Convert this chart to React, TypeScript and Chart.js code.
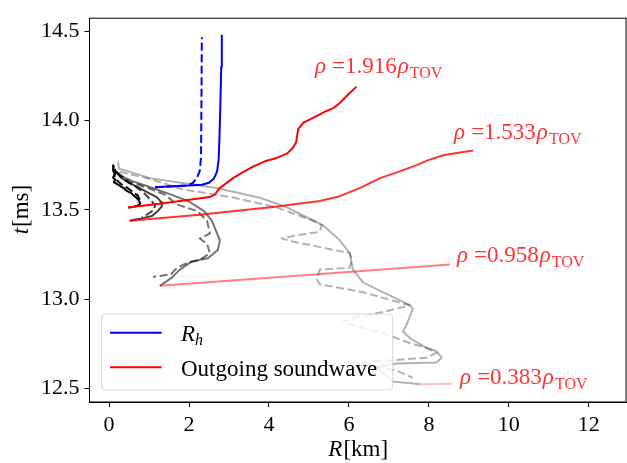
import React, { useEffect, useRef } from "react";
import { Chart, registerables } from "chart.js";
Chart.register(...registerables);

// ---------- axes ----------
const X_TICKS = [0, 2, 4, 6, 8, 10, 12];
const Y_TICKS = [12.5, 13.0, 13.5, 14.0, 14.5];
const X_MIN = -0.49, X_MAX = 12.93, Y_MIN = 12.425, Y_MAX = 14.573;

// ---------- horizon radius R_h ----------
const rhSolidR = [1.15, 1.6, 2.0, 2.32, 2.5, 2.62, 2.7, 2.74, 2.76, 2.785, 2.805, 2.82];
const rhSolidT = [13.627, 13.632, 13.636, 13.641, 13.652, 13.675, 13.714, 13.78, 13.9, 14.1, 14.3, 14.48];
const rhDashR = [1.15, 1.6, 1.97, 2.1, 2.2, 2.27, 2.3, 2.31, 2.32];
const rhDashT = [13.627, 13.632, 13.638, 13.652, 13.68, 13.72, 13.8, 14.1, 14.467];

// ---------- outgoing soundwaves ----------
const sw1916R = [0.48, 1.5, 2.52, 2.65, 2.77, 3.1, 3.35, 3.6, 3.9, 4.19, 4.45, 4.6, 4.68, 4.73, 4.86, 5.19, 5.4, 5.61, 5.77, 6.0, 6.19];
const sw1916T = [13.514, 13.542, 13.572, 13.587, 13.623, 13.678, 13.712, 13.742, 13.772, 13.791, 13.815, 13.848, 13.88, 13.952, 13.988, 14.025, 14.05, 14.07, 14.098, 14.15, 14.19];
const sw1533R = [0.52, 2.27, 4.1, 5.27, 5.77, 6.28, 6.78, 7.2, 7.69, 8.0, 8.36, 8.7, 9.11];
const sw1533T = [13.44, 13.473, 13.517, 13.55, 13.577, 13.623, 13.678, 13.71, 13.751, 13.78, 13.806, 13.818, 13.833];
const sw0958R = [1.27, 4.87, 8.53];
const sw0958T = [13.075, 13.134, 13.194];
const sw0383R = [7.78, 8.58];
const sw0383T = [12.524, 12.527];

// ---------- density contours (grey) ----------
const cA_R = [0.12, 0.1, 0.14, 0.1, 0.15, 0.12, 0.2, 0.3, 0.38, 0.45, 0.55, 0.62, 0.7, 0.75, 0.78, 0.72, 0.6, 0.48];
const cA_T = [13.75, 13.72, 13.7, 13.68, 13.67, 13.655, 13.645, 13.63, 13.62, 13.605, 13.595, 13.58, 13.565, 13.55, 13.535, 13.525, 13.517, 13.514];
const cAd_R = [0.15, 0.14, 0.2, 0.3, 0.45, 0.6, 0.72, 0.76, 0.7];
const cAd_T = [13.73, 13.69, 13.665, 13.645, 13.625, 13.6, 13.58, 13.56, 13.54];

const cB_R = [0.15, 0.3, 0.5, 0.7, 0.95, 1.2, 1.3, 1.32, 1.22, 1.07, 0.77, 0.52];
const cB_T = [13.72, 13.68, 13.65, 13.63, 13.6, 13.57, 13.545, 13.52, 13.494, 13.466, 13.45, 13.44];
const cBd_R = [0.18, 0.35, 0.6, 0.85, 1.02, 1.15, 1.12, 0.97, 0.82];
const cBd_T = [13.71, 13.675, 13.64, 13.6, 13.56, 13.525, 13.5, 13.477, 13.46];

const cC_R = [0.15, 0.3, 0.6, 1.0, 1.5, 1.97, 2.37, 2.57, 2.67, 2.77, 2.72, 2.47, 2.07, 1.77, 1.57, 1.27];
const cC_T = [13.72, 13.69, 13.66, 13.63, 13.59, 13.55, 13.495, 13.44, 13.386, 13.331, 13.276, 13.23, 13.212, 13.166, 13.121, 13.075];
const cCd_R = [0.2, 0.5, 1.0, 1.4, 1.7, 2.2, 2.45, 2.52, 2.27, 2.45, 2.52, 2.27, 1.95, 1.7, 1.55, 1.1];
const cCd_T = [13.71, 13.66, 13.62, 13.585, 13.53, 13.494, 13.44, 13.367, 13.34, 13.31, 13.258, 13.22, 13.203, 13.176, 13.14, 13.125];

const cD_R = [0.22, 0.25, 0.77, 1.02, 2.0, 2.69, 3.77, 4.4, 4.94, 5.36, 5.77, 6.02, 6.1, 6.36, 6.86, 7.52, 7.6, 7.44, 7.35, 7.52, 7.94, 8.19, 8.32, 8.19, 7.2, 6.7, 6.9, 7.1, 7.78];
const cD_T = [13.769, 13.73, 13.696, 13.678, 13.645, 13.623, 13.568, 13.52, 13.459, 13.413, 13.33, 13.258, 13.166, 13.093, 13.039, 12.967, 12.947, 12.856, 12.82, 12.783, 12.728, 12.71, 12.673, 12.646, 12.64, 12.62, 12.58, 12.54, 12.524];
const cDd_R = [0.27, 0.6, 1.0, 1.85, 3.1, 4.19, 5.1, 5.32, 5.27, 4.69, 4.32, 4.61, 6.02, 6.07, 6.02, 5.27, 5.19, 5.27, 6.36, 7.52, 6.86, 6.19, 5.86, 6.19, 6.86, 7.52, 7.94, 8.19, 7.94, 6.86, 6.02, 6.5, 7.2, 7.6];
const cDd_T = [13.714, 13.695, 13.675, 13.614, 13.57, 13.514, 13.44, 13.413, 13.377, 13.358, 13.34, 13.322, 13.258, 13.221, 13.176, 13.166, 13.112, 13.084, 13.039, 12.966, 12.929, 12.9, 12.874, 12.847, 12.81, 12.755, 12.728, 12.7, 12.673, 12.655, 12.646, 12.63, 12.6, 12.56];

// ---------- annotations ----------
const labelValues = ["1.916", "1.533", "0.958", "0.383"];
const labelR = [5.15, 8.63, 8.7, 8.78];
const labelT = [14.266, 13.898, 13.206, 12.524];
const legendLabels = ["R_h", "Outgoing soundwave"];

const SERIF = '"Liberation Serif", "Times New Roman", serif';
const pts = (R: number[], T: number[]) => R.map((r, i) => ({ x: r, y: T[i] }));
const DASH = [8, 3.5];

function line(R: number[], T: number[], color: string, dashed: boolean, order: number) {
  return {
    data: pts(R, T),
    borderColor: color,
    backgroundColor: color,
    borderWidth: 2,
    borderDash: dashed ? DASH : [],
    pointRadius: 0,
    showLine: true,
    fill: false,
    tension: 0,
    order,
    borderJoinStyle: "round" as const,
  };
}

const overlay = {
  id: "overlay",
  afterDraw(chart: any) {
    const { ctx, chartArea: ca, scales } = chart;
    const xs = scales.x, ys = scales.y;
    ctx.save();
    // frame
    ctx.strokeStyle = "#000";
    ctx.lineWidth = 1;
    ctx.strokeRect(ca.left, ca.top, ca.right - ca.left, ca.bottom - ca.top);

    // rho labels
    const labColor = "rgba(255,0,0,0.8)";
    ctx.textAlign = "left";
    ctx.textBaseline = "alphabetic";
    labelValues.forEach((v, i) => {
      let cx = xs.getPixelForValue(labelR[i]);
      const cy = ys.getPixelForValue(labelT[i]);
      ctx.fillStyle = labColor;
      ctx.font = `italic 23px ${SERIF}`;
      ctx.fillText("ρ", cx, cy);
      cx += ctx.measureText("ρ").width + 6;
      ctx.font = `23px ${SERIF}`;
      const s = "=" + v;
      ctx.fillText(s, cx, cy);
      cx += ctx.measureText(s).width + 1;
      ctx.font = `italic 23px ${SERIF}`;
      ctx.fillText("ρ", cx, cy);
      cx += ctx.measureText("ρ").width + 1;
      ctx.font = `16px ${SERIF}`;
      ctx.fillText("TOV", cx, cy + 5);
    });

    // legend
    const lx = 101.7, ly = 314, lw = 291, lh = 76, r = 4;
    ctx.beginPath();
    ctx.moveTo(lx + r, ly);
    ctx.lineTo(lx + lw - r, ly);
    ctx.quadraticCurveTo(lx + lw, ly, lx + lw, ly + r);
    ctx.lineTo(lx + lw, ly + lh - r);
    ctx.quadraticCurveTo(lx + lw, ly + lh, lx + lw - r, ly + lh);
    ctx.lineTo(lx + r, ly + lh);
    ctx.quadraticCurveTo(lx, ly + lh, lx, ly + lh - r);
    ctx.lineTo(lx, ly + r);
    ctx.quadraticCurveTo(lx, ly, lx + r, ly);
    ctx.closePath();
    ctx.fillStyle = "rgba(255,255,255,0.8)";
    ctx.fill();
    ctx.strokeStyle = "rgba(204,204,204,0.8)";
    ctx.lineWidth = 1;
    ctx.stroke();

    const rows = [
      { y: 332.7, color: "#0000ff" },
      { y: 367.3, color: "#ff0000" },
    ];
    rows.forEach((row, i) => {
      ctx.strokeStyle = row.color;
      ctx.lineWidth = 2;
      ctx.setLineDash([]);
      ctx.beginPath();
      ctx.moveTo(110, row.y);
      ctx.lineTo(161.7, row.y);
      ctx.stroke();
      ctx.fillStyle = "#000";
      const base = row.y + 8.5;
      const lbl = legendLabels[i];
      if (lbl.includes("_")) {
        const [main, sub] = lbl.split("_");
        ctx.font = `italic 23px ${SERIF}`;
        ctx.fillText(main, 181, base);
        const w = ctx.measureText(main).width;
        ctx.font = `italic 16px ${SERIF}`;
        ctx.fillText(sub, 181 + w, base + 4);
      } else {
        ctx.font = `23px ${SERIF}`;
        ctx.fillText(lbl, 181, base);
      }
    });

    // axis titles
    ctx.fillStyle = "#000";
    const drawTitle = (ital: string, rest: string, cx: number, cy: number, rot: boolean) => {
      ctx.save();
      ctx.translate(cx, cy);
      if (rot) ctx.rotate(-Math.PI / 2);
      ctx.font = `italic 23px ${SERIF}`;
      const w1 = ctx.measureText(ital).width;
      ctx.font = `23px ${SERIF}`;
      const w2 = ctx.measureText(rest).width;
      const start = -(w1 + w2) / 2;
      ctx.textAlign = "left";
      ctx.font = `italic 23px ${SERIF}`;
      ctx.fillText(ital, start, 0);
      ctx.font = `23px ${SERIF}`;
      ctx.fillText(rest, start + w1 + 1, 0);
      ctx.restore();
    };
    drawTitle("R", "[km]", (ca.left + ca.right) / 2, 456, false);
    drawTitle("t", "[ms]", 28, (ca.top + ca.bottom) / 2, true);
    ctx.restore();
  },
};

export default function App() {
  const ref = useRef<HTMLCanvasElement | null>(null);
  useEffect(() => {
    if (!ref.current) return;
    const grey = (a: number) => `rgba(0,0,0,${a})`;
    const chart = new Chart(ref.current, {
      type: "scatter",
      data: {
        datasets: [
          line(rhSolidR, rhSolidT, "#0000ff", false, 0),
          line(rhDashR, rhDashT, "#0000ff", true, 0),
          line(sw1916R, sw1916T, "rgba(255,0,0,1)", false, 1),
          line(sw1533R, sw1533T, "rgba(255,0,0,0.8)", false, 1),
          line(sw0958R, sw0958T, "rgba(255,0,0,0.5)", false, 1),
          line(sw0383R, sw0383T, "rgba(255,0,0,0.25)", false, 1),
          line(cA_R, cA_T, grey(1), false, 2),
          line(cAd_R, cAd_T, grey(1), true, 2),
          line(cB_R, cB_T, grey(0.75), false, 3),
          line(cBd_R, cBd_T, grey(0.75), true, 3),
          line(cC_R, cC_T, grey(0.55), false, 4),
          line(cCd_R, cCd_T, grey(0.55), true, 4),
          line(cD_R, cD_T, grey(0.3), false, 5),
          line(cDd_R, cDd_T, grey(0.3), true, 5),
        ] as any,
      },
      options: {
        animation: false,
        responsive: false,
        devicePixelRatio: 1,
        layout: { padding: { top: 9.5, right: 1, left: 0, bottom: 0 } },
        plugins: { legend: { display: false }, tooltip: { enabled: false } },
        events: [],
        scales: {
          x: {
            type: "linear",
            min: X_MIN,
            max: X_MAX,
            afterBuildTicks: (axis: any) => {
              axis.ticks = X_TICKS.map((v) => ({ value: v }));
            },
            afterFit: (s: any) => {
              s.height = 61;
            },
            grid: { drawOnChartArea: false, drawTicks: true, tickLength: 5, tickColor: "#000", color: "#000" },
            border: { display: true, color: "#000", width: 1 },
            ticks: {
              autoSkip: false,
              maxRotation: 0,
              padding: 5,
              color: "#000",
              font: { family: SERIF, size: 22 },
              callback: (v: any) => String(v),
            },
          },
          y: {
            type: "linear",
            min: Y_MIN,
            max: Y_MAX,
            afterBuildTicks: (axis: any) => {
              axis.ticks = Y_TICKS.map((v) => ({ value: v }));
            },
            afterFit: (s: any) => {
              s.width = 89.5;
            },
            grid: { drawOnChartArea: false, drawTicks: true, tickLength: 5, tickColor: "#000", color: "#000" },
            border: { display: true, color: "#000", width: 1 },
            ticks: {
              autoSkip: false,
              padding: 5,
              color: "#000",
              font: { family: SERIF, size: 22 },
              callback: (v: any) => Number(v).toFixed(1),
            },
          },
        },
      } as any,
      plugins: [overlay],
    });
    return () => chart.destroy();
  }, []);
  return (
    <div style={{ position: "absolute", left: 0, top: 0, width: 627, height: 463, background: "#fff" }}>
      <canvas ref={ref} width={627} height={463} style={{ width: 627, height: 463, display: "block" }} />
    </div>
  );
}
